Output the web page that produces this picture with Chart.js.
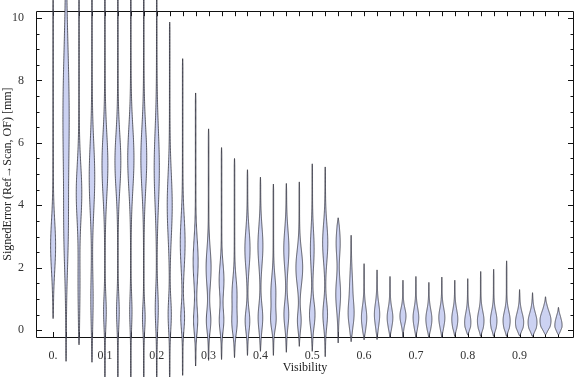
<!DOCTYPE html>
<html>
<head>
<meta charset="utf-8">
<script src="https://cdn.jsdelivr.net/npm/chart.js@4.4.1/dist/chart.umd.min.js"></script>
<style>
  html, body { margin: 0; padding: 0; background: #fff; }
  #wrap { width: 576px; height: 377px; }
</style>
</head>
<body>
<div id="wrap"><canvas id="c" width="576" height="377"></canvas></div>
<script>
// ---- Data ----
const visibility = [0, 0.025, 0.05, 0.075, 0.1, 0.125, 0.15, 0.175, 0.2, 0.225,
  0.25, 0.275, 0.3, 0.325, 0.35, 0.375, 0.4, 0.425, 0.45, 0.475,
  0.5, 0.525, 0.55, 0.575, 0.6, 0.625, 0.65, 0.675, 0.7, 0.725,
  0.75, 0.775, 0.8, 0.825, 0.85, 0.875, 0.9, 0.925, 0.95, 0.975];

const minError = [0.37, -1.0, -0.47, -1.03, -1.6, -1.6, -1.6, -1.6, -1.6, -1.6,
  -1.45, -1.15, -0.97, -0.94, -0.88, -0.81, -0.68, -0.81, -0.71, -0.52,
  -0.68, -0.85, -0.41, -0.37, -0.31, -0.3, -0.25, -0.25, -0.25, -0.25,
  -0.25, -0.2, -0.15, -0.2, -0.2, -0.2, -0.18, -0.2, -0.15, -0.15];

const maxError = [10.6, 11, 11, 11, 11, 11, 11, 11, 10.8, 9.87,
  8.7, 7.6, 6.45, 5.85, 5.5, 5.14, 4.9, 4.68, 4.7, 4.75,
  5.33, 5.23, 3.6, 3.04, 2.13, 1.93, 1.72, 1.6, 1.72, 1.53,
  1.7, 1.6, 1.65, 1.88, 1.95, 2.22, 1.3, 1.2, 1.07, 0.73];

// main density bump of each violin: mode, spread, relative density
const mainMode = [2.7, 6.8, 4.4, 4.9, 5.3, 5.4, 5.5, 5.5, 5.2, 4.0,
  2.8, 2.2, 2.0, 1.6, 1.15, 2.6, 2.7, 1.2, 2.6, 2.0,
  2.6, 2.8, 2.8, 1.4, 0.4, 0.5, 0.4, 0.45, 0.4, 0.35,
  0.4, 0.35, 0.25, 0.3, 0.3, 0.3, 0.25, 0.25, 0.3, 0.15];
const mainSpread = [0.8, 2.2, 0.9, 1.1, 1.0, 0.9, 1.0, 1.0, 1.2, 1.0,
  0.8, 0.7, 0.6, 0.5, 0.5, 0.6, 0.6, 0.5, 0.6, 0.55,
  0.6, 0.6, 0.45, 0.5, 0.35, 0.35, 0.3, 0.25, 0.3, 0.3,
  0.3, 0.3, 0.3, 0.3, 0.3, 0.3, 0.3, 0.3, 0.3, 0.25];
const mainDensity = [2.5, 3.2, 2.8, 2.8, 3.0, 3.0, 3.2, 3.0, 2.6, 2.5,
  2.4, 2.5, 2.5, 2.4, 2.5, 2.6, 2.5, 2.5, 2.6, 3.5,
  1.8, 2.6, 2.0, 1.3, 2.7, 2.7, 2.9, 3.1, 2.9, 3.1,
  3.1, 3.1, 3.2, 3.4, 3.4, 3.7, 4.3, 4.7, 5.9, 3.8];

// secondary (lower) density bump, null where there is none
const lowerMode = [null, 3.0, 1.5, 1.0, 0.6, 0.6, 0.6, 0.4, 0.7, 0.5,
  0.4, 0.3, 0.3, 0.3, 0.2, 0.3, 0.4, 0.3, 0.5, 0.3,
  0.5, 0.5, 1.15, 0.5, null, null, null, null, null, null,
  null, null, null, null, null, null, null, null, null, null];
const lowerSpread = [null, 1.2, 1.0, 0.8, 0.5, 0.5, 0.5, 0.4, 0.6, 0.5,
  0.4, 0.4, 0.35, 0.35, 0.35, 0.35, 0.4, 0.3, 0.4, 0.3,
  0.4, 0.4, 0.5, 0.4, null, null, null, null, null, null,
  null, null, null, null, null, null, null, null, null, null];
const lowerDensity = [null, 1.5, 0.8, 1.0, 1.2, 1.2, 1.0, 1.2, 1.4, 1.5,
  1.8, 2.0, 2.2, 2.2, 2.3, 2.3, 2.3, 2.3, 2.4, 1.8,
  2.8, 2.3, 2.4, 2.8, null, null, null, null, null, null,
  null, null, null, null, null, null, null, null, null, null];

const xTickValues = [0, 0.1, 0.2, 0.3, 0.4, 0.5, 0.6, 0.7, 0.8, 0.9];
const xTickLabels = ['0.', '0.1', '0.2', '0.3', '0.4', '0.5', '0.6', '0.7', '0.8', '0.9'];
const yTickValues = [0, 2, 4, 6, 8, 10];
const yTickLabels = ['0', '2', '4', '6', '8', '10'];

// ---- Rendering ----
const DENSITY_UNIT = 0.00172; // x-units per density unit
const FONT = "'Liberation Serif', 'DejaVu Serif', serif";

function halfWidth(i, y) {
  let w = 0.3;
  w += mainDensity[i] * Math.exp(-0.5 * Math.pow((y - mainMode[i]) / mainSpread[i], 2));
  if (lowerMode[i] !== null) {
    w += lowerDensity[i] * Math.exp(-0.5 * Math.pow((y - lowerMode[i]) / lowerSpread[i], 2));
  }
  const edge = Math.min(y - minError[i], maxError[i] - y);
  const t = Math.max(0, Math.min(1, edge / 0.25));
  return w * Math.sqrt(t);
}

const framePlugin = {
  id: 'frameAndViolins',
  afterDatasetsDraw(chart) {
    const ctx = chart.ctx;
    const xs = chart.scales.x, ys = chart.scales.y;
    const a = chart.chartArea;
    ctx.save();
    // frame
    ctx.strokeStyle = '#111';
    ctx.lineWidth = 1;
    ctx.beginPath();
    ctx.rect(Math.round(a.left) + 0.5, Math.round(a.top) + 0.5,
             Math.round(a.right - a.left) - 1, Math.round(a.bottom - a.top));
    ctx.stroke();
    // y frame ticks (left and right), every 0.5
    ctx.beginPath();
    for (let k = 0; k <= 20; k++) {
      const v = k * 0.5;
      const py = Math.round(ys.getPixelForValue(v)) + 0.5;
      const len = (k % 4 === 0) ? 6 : 3.5;
      ctx.moveTo(a.left, py); ctx.lineTo(a.left + len, py);
      ctx.moveTo(a.right, py); ctx.lineTo(a.right - len, py);
    }
    // x frame ticks at every violin position
    visibility.forEach(v => {
      const px = Math.round(xs.getPixelForValue(v)) + 0.5;
      ctx.moveTo(px, a.top); ctx.lineTo(px, a.top + 5);
      ctx.moveTo(px, a.bottom); ctx.lineTo(px, a.bottom - 5);
    });
    ctx.stroke();

    // violins
    const x0 = xs.getPixelForValue(0);
    const unitPx = xs.getPixelForValue(DENSITY_UNIT) - x0;
    for (let i = 0; i < visibility.length; i++) {
      const cx = xs.getPixelForValue(visibility[i]);
      const lo = minError[i], hi = maxError[i];
      const N = 240;
      const pts = [];
      for (let s = 0; s <= N; s++) {
        const y = lo + (hi - lo) * s / N;
        pts.push([ys.getPixelForValue(y), halfWidth(i, y) * unitPx]);
      }
      ctx.beginPath();
      pts.forEach((p, k) => { if (k === 0) ctx.moveTo(cx - p[1], p[0]); else ctx.lineTo(cx - p[1], p[0]); });
      for (let k = pts.length - 1; k >= 0; k--) ctx.lineTo(cx + pts[k][1], pts[k][0]);
      ctx.closePath();
      ctx.fillStyle = 'rgb(204,210,242)';
      ctx.fill();
      ctx.strokeStyle = 'rgba(35,35,45,0.72)';
      ctx.lineWidth = 1;
      ctx.stroke();
    }
    ctx.restore();
  }
};

new Chart(document.getElementById('c'), {
  type: 'scatter',
  data: {
    datasets: [{
      data: visibility.map((v, i) => ({ x: v, y: mainMode[i] })),
      pointRadius: 0,
      showLine: false
    }]
  },
  options: {
    responsive: false,
    animation: false,
    devicePixelRatio: 1,
    layout: { padding: { top: 4, right: 2, left: 0, bottom: 0 } },
    plugins: { legend: { display: false }, tooltip: { enabled: false } },
    scales: {
      x: {
        type: 'linear',
        min: -0.033,
        max: 1.005,
        grid: { display: false },
        border: { display: false },
        afterBuildTicks: s => { s.ticks = xTickValues.map(v => ({ value: v })); },
        afterFit: s => { s.height = 40; },
        ticks: {
          autoSkip: false,
          maxRotation: 0,
          padding: 4,
          color: '#333',
          font: { family: FONT, size: 12 },
          callback: (v) => xTickLabels[xTickValues.indexOf(v)] ?? ''
        },
        title: {
          display: true,
          text: 'Visibility',
          color: '#222',
          font: { family: FONT, size: 12 },
          padding: { top: 0, bottom: 2 }
        }
      },
      y: {
        type: 'linear',
        min: -0.22,
        max: 10.22,
        grid: { display: false },
        border: { display: false },
        afterBuildTicks: s => { s.ticks = yTickValues.map(v => ({ value: v })); },
        afterFit: s => { s.width = 36; },
        ticks: {
          padding: 4,
          color: '#333',
          font: { family: FONT, size: 12 },
          callback: (v) => yTickLabels[yTickValues.indexOf(v)] ?? ''
        },
        title: {
          display: true,
          text: 'SignedError (Ref\u2192Scan, OF) [mm]',
          color: '#222',
          font: { family: FONT, size: 12 },
          padding: { top: 1, bottom: 0 }
        }
      }
    }
  },
  plugins: [framePlugin]
});
</script>
</body>
</html>
